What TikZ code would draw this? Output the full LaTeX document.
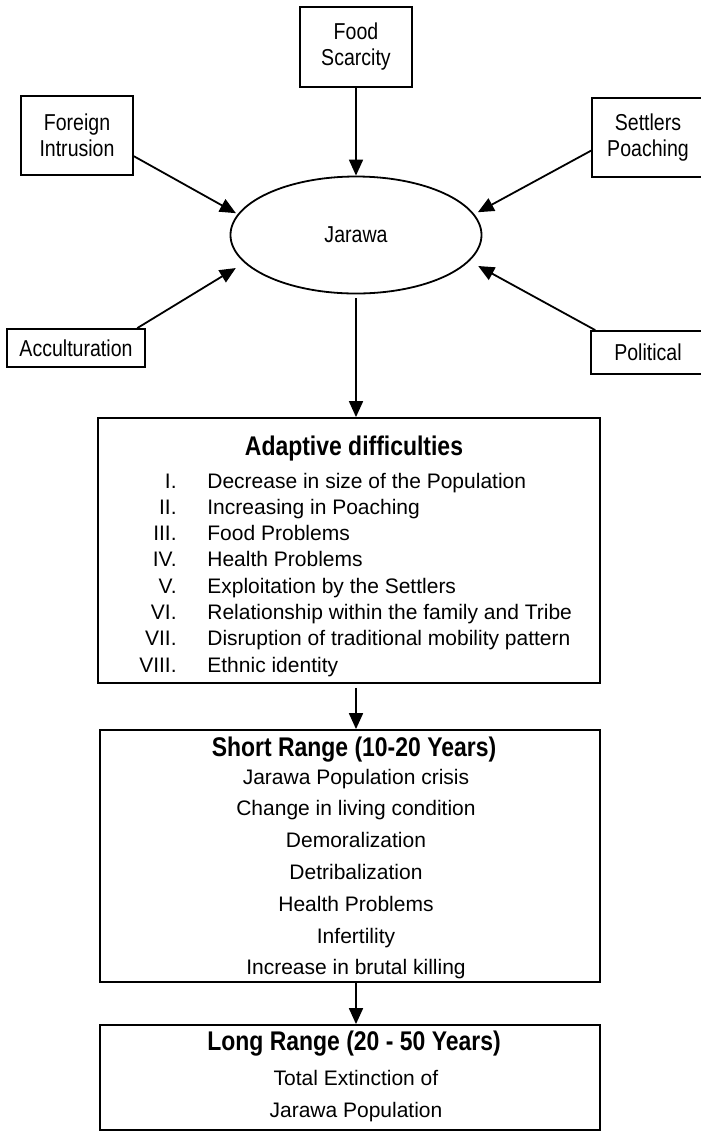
\documentclass[tikz,border=0pt]{standalone}
\usepackage{fontspec}
\setmainfont{Liberation Sans}
\newfontfamily\condfont[FakeStretch=0.85]{Liberation Sans}
\usetikzlibrary{shapes.geometric, arrows.meta}
\tikzset{
  cause/.style={
    rectangle,
    draw=black,
    line width=0.9pt,
    inner sep=0pt,
    align=center,
    font=\condfont\fontsize{11.5}{13}\selectfont
  },
  panel/.style={rectangle, draw=black, line width=0.9pt, inner sep=0pt, minimum width=250pt},
  heading/.style={anchor=base, font=\condfont\bfseries\fontsize{13.5}{15}\selectfont},
  entry/.style={inner sep=0pt, font=\fontsize{10.5}{12}\selectfont}
}
\tikzstyle{arrow} = [-{Triangle[length=8pt,width=7pt]}, line width=0.9pt]

\begin{document}
\begin{tikzpicture}[x=0.5pt, y=-0.5pt]
    \useasboundingbox (0,0) rectangle (701,1132);
    % causes round the tribe
    \node[cause, minimum width=56pt, minimum height=40pt] (food) at (356, 47) {Food\\Scarcity};
    \node[cause, minimum width=56pt, minimum height=39.5pt] (foreign) at (77, 135.5) {Foreign\\Intrusion};
    \node[cause, minimum width=56pt, minimum height=39.5pt] (settlers) at (648, 137.5) {Settlers\\Poaching};
    \node[cause, minimum width=69pt, minimum height=19pt] (accult) at (76, 348) {Acculturation};
    \node[cause, minimum width=57pt, minimum height=21.5pt] (political) at (648, 352.5) {Political};
    \node[ellipse, draw=black, line width=0.9pt, inner sep=0pt, minimum width=125.5pt, minimum height=58.5pt,
          font=\condfont\fontsize{11.5}{13}\selectfont] (jarawa) at (356, 235) {Jarawa};
    \draw[arrow] (food) -- (jarawa);
    \draw[arrow, shorten >=1pt] (foreign.-20) -- (jarawa.170);
    \draw[arrow, shorten >=2pt] (settlers.193) -- (jarawa.10);
    \draw[arrow, shorten >=5pt] (accult.18) -- (jarawa.194);
    \draw[arrow, shorten >=5pt] (political.157) -- (jarawa.-13);

    % adaptive difficulties
    \node[panel, minimum width=251pt, minimum height=132.5pt] (adaptive) at (349, 550.5) {};
    \node[heading] (adtitle) at (354, 455) {Adaptive difficulties};
    \foreach \num/\txt [count=\i] in {I./Decrease in size of the Population, II./Increasing in Poaching,
        III./Food Problems, IV./Health Problems, V./Exploitation by the Settlers,
        VI./Relationship within the family and Tribe, VII./Disruption of traditional mobility pattern,
        VIII./Ethnic identity} {
      \node[entry, anchor=base east] (num\i) at (177, {488+26.3*(\i-1)}) {\num};
      \node[entry, anchor=base west] (diff\i) at (207, {488+26.3*(\i-1)}) {\txt};
    }

    % short range
    \node[panel, minimum height=126pt] (short) at (350, 856) {};
    \node[heading] (shtitle) at (354, 756) {Short Range (10-20 Years)};
    \foreach \txt [count=\i] in {Jarawa Population crisis, Change in living condition, Demoralization,
        Detribalization, Health Problems, Infertility, Increase in brutal killing} {
      \node[entry, anchor=base] (eff\i) at (356, {784+31.8*(\i-1)}) {\txt};
    }

    % long range
    \node[panel, minimum height=52.5pt] (long) at (350, 1077.5) {};
    \node[heading] (lgtitle) at (354, 1050) {Long Range (20 - 50 Years)};
    \node[entry, anchor=base] (ext1) at (356, 1085) {Total Extinction of};
    \node[entry, anchor=base] (ext2) at (356, 1117) {Jarawa Population};

    \draw[arrow, shorten <=2pt] (jarawa.south) -- (jarawa.south |- adaptive.north);
    \draw[arrow, shorten <=2pt] (adaptive.south -| jarawa.south) -- (short.north -| jarawa.south);
    \draw[arrow] (short.south -| jarawa.south) -- (long.north -| jarawa.south);
\end{tikzpicture}
\end{document}
